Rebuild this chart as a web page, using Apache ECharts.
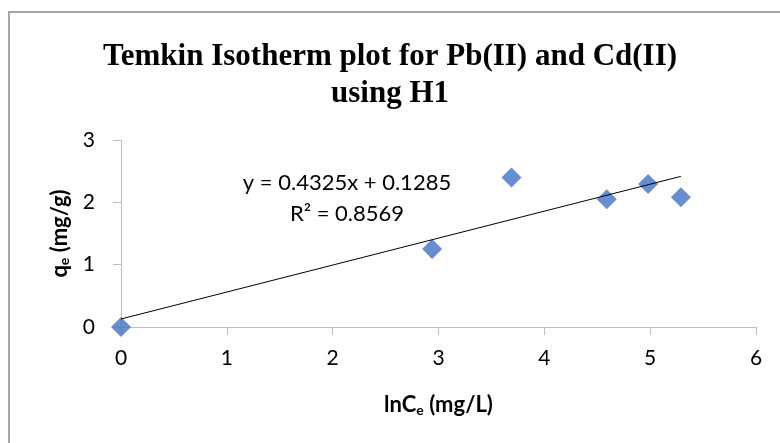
<!DOCTYPE html>
<html>
<head>
<meta charset="utf-8">
<script src="https://cdn.jsdelivr.net/npm/echarts@6/dist/echarts.min.js"></script>
<style>
  html, body { margin: 0; padding: 0; background: #fff; }
  #chart { width: 780px; height: 443px; }
</style>
</head>
<body>
<div id="chart"></div>
<script>
// values
var lnCe = [0, 2.94, 3.69, 4.59, 4.98, 5.29];
var qe = [0, 1.25, 2.40, 2.05, 2.295, 2.08];
var slope = 0.4325;
var intercept = 0.1285;
var r2 = 0.8569;
var xTicks = [0, 1, 2, 3, 4, 5, 6];
var yTicks = [0, 1, 2, 3];

var points = lnCe.map(function (x, i) { return [x, qe[i]]; });
var xEnd = Math.max.apply(null, lnCe);
var trend = [[0, intercept], [xEnd, slope * xEnd + intercept]];

var font = 'Lato';
var nameRich = {
    b: { fontFamily: font, fontWeight: 'bold', fontSize: 22, color: '#000' },
    s: { fontFamily: font, fontWeight: 'bold', fontSize: 14, color: '#000', verticalAlign: 'bottom', padding: [10, 0, 0, 0] }
};
var myChart = echarts.init(document.getElementById('chart'));
var option = {
    animation: false,
    title: {
        text: 'Temkin Isotherm plot for Pb(II) and Cd(II)\nusing H1',
        left: 'center',
        top: 33,
        textStyle: {
            fontFamily: 'Liberation Serif',
            fontWeight: 'bold',
            fontSize: 31,
            lineHeight: 37,
            color: '#000'
        }
    },
    grid: { left: 121, right: 24, top: 140, bottom: 116 },
    xAxis: {
        type: 'value',
        min: xTicks[0],
        max: xTicks[xTicks.length - 1],
        interval: 1,
        name: '{b|lnC}{s|e}{b| (mg/L)}',
        nameLocation: 'middle',
        nameGap: 66,
        nameTextStyle: { rich: nameRich },
        axisLine: { lineStyle: { color: '#BFBFBF', width: 1 } },
        axisTick: { show: true, length: 8, lineStyle: { color: '#BFBFBF' } },
        axisLabel: { fontFamily: font, fontSize: 21, color: '#000', margin: 21 },
        splitLine: { show: false }
    },
    yAxis: {
        type: 'value',
        min: yTicks[0],
        max: yTicks[yTicks.length - 1],
        interval: 1,
        name: '{b|q}{s|e}{b| (mg/g)}',
        nameLocation: 'middle',
        nameGap: 48,
        nameTextStyle: { rich: nameRich },
        axisLine: { show: true, lineStyle: { color: '#BFBFBF', width: 1 } },
        axisTick: { show: true, length: 8, lineStyle: { color: '#BFBFBF' } },
        axisLabel: { fontFamily: font, fontSize: 21, color: '#000', margin: 26 },
        splitLine: { show: false }
    },
    graphic: [
        {
            type: 'rect',
            shape: { x: 9, y: 12, width: 800, height: 460 },
            style: { fill: 'none', stroke: '#A6A6A6', lineWidth: 2 },
            silent: true
        },
        {
            type: 'text',
            style: {
                x: 347,
                y: 198,
                text: 'y = ' + slope + 'x + ' + intercept + '\nR² = ' + r2,
                textAlign: 'center',
                textVerticalAlign: 'middle',
                fontFamily: font,
                fontSize: 22,
                lineHeight: 31,
                fill: '#000'
            }
        }
    ],
    series: [
        {
            name: 'trend',
            type: 'line',
            data: trend,
            symbol: 'none',
            lineStyle: { color: '#000', width: 1 },
            z: 3
        },
        {
            name: 'qe',
            type: 'scatter',
            data: points,
            symbol: 'diamond',
            symbolSize: 20,
            itemStyle: { color: '#4472C4' },
            z: 2
        }
    ]
};
myChart.setOption(option);
</script>
</body>
</html>
